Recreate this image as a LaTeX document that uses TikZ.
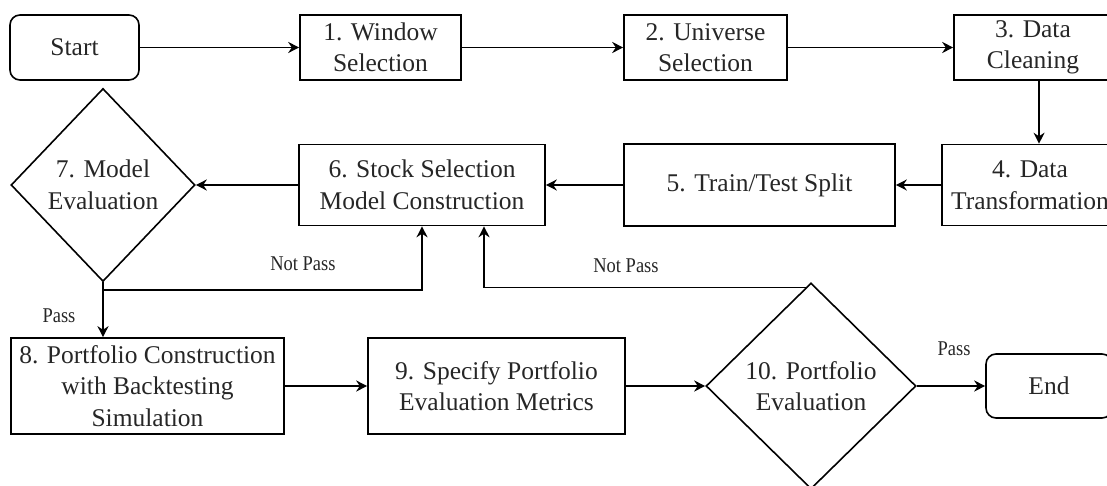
\documentclass[tikz,border=0pt]{standalone}
\usepackage{fontspec}
\setmainfont{Liberation Serif}
\newfontfamily\lblfont[FakeStretch=0.88]{Liberation Serif}
\usetikzlibrary{shapes.geometric,arrows.meta,calc}
\begin{document}
\begin{tikzpicture}[x=0.5pt,y=-0.5pt,
  box/.style={draw, line width=0.8pt, inner sep=0pt, align=center, text=black!85,
    font=\fontsize{12.75pt}{15.75pt}\selectfont},
  term/.style={box, rounded corners=5pt},
  dec/.style={box, diamond, aspect=1},
  arr/.style={line width=0.75pt, -{Stealth[length=5.5pt,width=5.5pt,inset=1.8pt]}},
  lbl/.style={font=\lblfont\fontsize{10.5pt}{12pt}\selectfont, inner sep=0pt, text=black!85}
]
\useasboundingbox (0,0) rectangle (1107,486);
% nodes
\node[term, minimum width=64.5pt, minimum height=32.5pt] (start) at (74.5,47.5) {Start};
\node[box, minimum width=80.5pt, minimum height=32.5pt] (n1) at (380.5,47.5) {1. Window\\Selection};
\node[box, minimum width=81.5pt, minimum height=32.5pt] (n2) at (705.5,47.5) {2. Universe\\Selection};
\node[box, minimum width=79pt, minimum height=32.5pt] (n3) at (1033,47.5) {3. Data\\Cleaning};
\node[box, minimum width=88pt, minimum height=40.5pt] (n4) at (1030,185) {4. Data\\Transformation};
\node[box, minimum width=135.5pt, minimum height=41pt] (n5) at (759.5,185) {5. Train/Test Split};
\node[box, minimum width=123pt, minimum height=40.5pt] (n6) at (422,185) {6. Stock Selection\\Model Construction};
\node[dec, minimum width=92pt, minimum height=96.5pt] (d7) at (103,185) {7. Model\\Evaluation};
\node[box, minimum width=136.5pt, minimum height=48pt] (n8) at (147.5,386) {8. Portfolio Construction\\with Backtesting\\Simulation};
\node[box, minimum width=128.5pt, minimum height=48pt] (n9) at (496.5,386) {9. Specify Portfolio\\Evaluation Metrics};
\node[dec, minimum width=105pt, minimum height=103pt] (d10) at (811,386) {10. Portfolio\\Evaluation};
\node[term, minimum width=63pt, minimum height=32pt] (end) at (1049,386) {End};
% labels
\node[lbl] (lnp1) at (303,264) {Not Pass};
\node[lbl] (lnp2) at (626,266) {Not Pass};
\node[lbl] (lp1) at (59,316) {Pass};
\node[lbl] (lp2) at (954,349) {Pass};
% connectors
\draw[arr] (start.east) -- (n1.west);
\draw[arr] (n1.east) -- (n2.west);
\draw[arr] (n2.east) -- (n3.west);
\draw[arr] ([xshift=3pt]n3.south) -- ([xshift=3pt]n3.south |- n4.north);
\draw[arr] (n4.west) -- (n5.east);
\draw[arr] (n5.west) -- (n6.east);
\draw[arr] (n6.west) -- (d7.east);
\draw[arr] (d7.south) -- (d7.south |- n8.north);
\draw[arr] (d7.south) |- ($(n6.south)+(0,63.5)$) -- (n6.south);
\draw[arr] (d10.93.5) -| ([xshift=31pt]n6.south);
\draw[arr] (n8.east) -- (n9.west);
\draw[arr] (n9.east) -- (d10.west);
\draw[arr] (d10.east) -- (end.west);
\end{tikzpicture}
\end{document}
